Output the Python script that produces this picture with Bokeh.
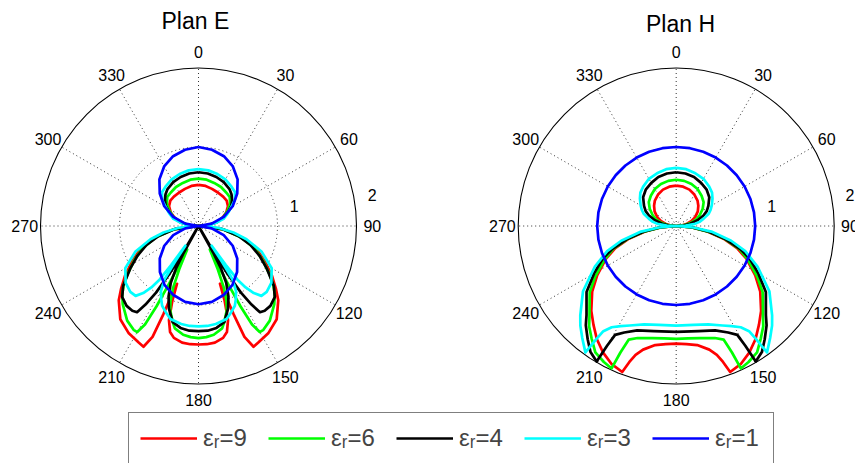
import numpy as np
from bokeh.plotting import figure
from bokeh.models import Legend, LegendItem, Range1d
from bokeh.embed import file_html
from bokeh.resources import INLINE
from bokeh.core.properties import value

# ---------------- data ----------------
# angle in degrees, clockwise from the top (0 = up), right half 0..180;
# every pattern is symmetric about the 0-180 axis.
SERIES = ["9", "6", "4", "3", "1"]
COLORS = ["#ff0000", "#00ff00", "#000000", "#00ffff", "#0000ff"]

# ---- Plan E ----
E_ANG_9 = [0, 10, 20, 30, 40, 48, 56, 64, 72, 80, 86, 90, 98, 105, 112, 118, 124, 129, 133, 140,
           147, 153, 155.5, 157.5, 158.3, 158.8, 159.6, 160.7, 162.6, 165, 167.6, 172, 176, 180]
E_R_9 = [0.52, 0.515, 0.5, 0.49, 0.485, 0.48, 0.45, 0.39, 0.31, 0.21, 0.1, 0.0, 0.33, 0.58, 0.8, 0.95,
         1.12, 1.26, 1.38, 1.54, 1.62, 1.66, 1.68, 1.52, 1.2, 0.92, 0.78, 1.0, 1.25, 1.39, 1.45, 1.49, 1.5, 1.5]

E_ANG_6 = [0, 10, 20, 30, 40, 47, 55, 62, 70, 78, 85, 90, 98, 105, 112, 118, 124, 128, 132, 136, 143,
           148, 150, 151.5, 152.4, 153, 153.8, 154.2, 156, 157.7, 159.5, 161.3, 165, 167, 172, 176, 180]
E_R_6 = [0.6, 0.595, 0.58, 0.57, 0.55, 0.54, 0.49, 0.42, 0.34, 0.24, 0.12, 0.0, 0.32, 0.56, 0.77, 0.92,
         1.08, 1.2, 1.3, 1.38, 1.5, 1.55, 1.55, 1.42, 1.15, 0.8, 0.45, 0.33, 0.6, 0.85, 1.01, 1.12, 1.26,
         1.33, 1.39, 1.41, 1.42]

E_ANG_4 = [0, 10, 20, 30, 40, 46, 52, 58, 64, 70, 78, 85, 90, 97, 104, 110, 116, 122, 128.5, 133, 138,
           142, 144.5, 146, 147.5, 148.8, 149.6, 150, 151, 152, 154, 157, 160.3, 165, 170, 175, 180]
E_R_4 = [0.68, 0.675, 0.66, 0.64, 0.61, 0.58, 0.54, 0.49, 0.42, 0.35, 0.24, 0.12, 0.0, 0.3, 0.52, 0.7,
         0.86, 1.02, 1.22, 1.32, 1.36, 1.36, 1.34, 1.2, 1.0, 0.7, 0.35, 0.0, 0.38, 0.6, 0.8, 0.97, 1.11,
         1.26, 1.31, 1.33, 1.33]

E_ANG_3 = [0, 10, 20, 30, 40, 47, 54, 60, 67, 74, 80, 86, 90, 95, 100.6, 105.4, 112, 120, 128, 134, 138,
           140.5, 142.5, 144, 145, 145.7, 146.2, 146.8, 147.5, 150, 153, 155.5, 160, 163.2, 170, 175, 180]
E_R_3 = [0.72, 0.715, 0.7, 0.68, 0.65, 0.63, 0.57, 0.48, 0.4, 0.33, 0.22, 0.12, 0.05, 0.25, 0.45, 0.63,
         0.86, 1.07, 1.17, 1.2, 1.19, 1.1, 0.98, 0.84, 0.6, 0.4, 0.3, 0.55, 0.8, 0.95, 1.04, 1.11, 1.18,
         1.23, 1.26, 1.27, 1.27]

E_ANG_1 = [0, 10, 20, 30, 40, 50, 60, 70, 80, 90, 100, 110, 120, 130, 140, 150, 160, 170, 180]
E_R_1 = [1.0, 0.98, 0.94, 0.87, 0.77, 0.64, 0.5, 0.34, 0.17, 0.0, 0.17, 0.34, 0.5, 0.64, 0.76, 0.86,
         0.93, 0.975, 0.99]

# ---- Plan H ----
H_ANG_9 = [0, 10, 20, 30, 40, 47.5, 56, 65, 72, 78, 84, 90, 95, 100, 105, 110, 115, 122, 128, 135, 140,
           145, 150, 155, 159.7, 161, 162.5, 165, 170, 175, 180]
H_R_9 = [0.51, 0.505, 0.49, 0.46, 0.42, 0.38, 0.33, 0.265, 0.2, 0.14, 0.07, 0.0, 0.2, 0.4, 0.62, 0.82,
         0.98, 1.18, 1.35, 1.52, 1.63, 1.75, 1.85, 1.93, 1.97, 1.82, 1.71, 1.62, 1.53, 1.5, 1.49]

H_ANG_6 = [0, 10, 20, 30, 40, 49, 57, 65, 72, 78, 84, 90, 95, 100, 105, 110, 115, 122, 127.5, 133, 136,
           139, 143, 147.4, 152, 155.6, 156.2, 157.3, 161, 168, 174, 180]
H_R_6 = [0.585, 0.58, 0.565, 0.54, 0.5, 0.46, 0.4, 0.33, 0.27, 0.19, 0.1, 0.0, 0.2, 0.41, 0.64, 0.85,
         1.0, 1.21, 1.38, 1.5, 1.58, 1.68, 1.78, 1.9, 1.95, 1.98, 1.75, 1.56, 1.5, 1.45, 1.43, 1.43]

H_ANG_4 = [0, 10, 20, 30, 40, 49, 58, 64, 69, 75, 81, 86, 90, 95, 100, 105, 110, 114, 120, 126.4, 134.8,
           137.7, 142, 145.8, 149.6, 150, 150.7, 154, 159.5, 168, 180]
H_R_4 = [0.68, 0.675, 0.66, 0.63, 0.6, 0.555, 0.48, 0.43, 0.37, 0.28, 0.18, 0.09, 0.0, 0.21, 0.42, 0.65,
         0.87, 1.02, 1.2, 1.41, 1.6, 1.7, 1.82, 1.93, 1.99, 1.75, 1.58, 1.5, 1.41, 1.36, 1.34]

H_ANG_3 = [0, 10, 20, 30, 40, 47, 53, 60, 65, 69.4, 75, 80, 83.4, 87, 90, 95, 99, 105, 110, 116.5, 125,
           133, 136.1, 140, 144.3, 144.8, 145.3, 147.5, 151, 155, 162, 170, 180]
H_R_3 = [0.735, 0.73, 0.71, 0.69, 0.65, 0.62, 0.575, 0.52, 0.48, 0.44, 0.36, 0.3, 0.24, 0.12, 0.0, 0.22,
         0.45, 0.72, 0.93, 1.15, 1.44, 1.66, 1.75, 1.85, 1.97, 1.75, 1.62, 1.52, 1.45, 1.39, 1.31, 1.27, 1.26]

H_ANG_1 = [0, 10, 20, 30, 40, 50, 60, 70, 80, 90, 100, 110, 120, 130, 140, 150, 160, 170, 180]
H_R_1 = [1.0, 1.0, 1.0, 1.0, 1.0, 1.0, 1.0, 1.0, 1.0, 1.0, 1.0, 1.0, 1.0, 1.0, 1.0, 1.0, 1.0, 1.0, 1.0]

ANGLE_TICKS = [0, 30, 60, 90, 120, 150, 180, 210, 240, 270, 300, 330]
RADIAL_TICKS = [1, 2]
R_MAX = 2
TITLES = ["Plan E", "Plan H"]

# ---------------- layout ----------------
W, H = 855, 463
U = 79.0                       # pixels per radial unit
CX_E_PX, CY_PX = 198.0, 225.5  # Plan E centre on the canvas
CX_H = (675.7 - CX_E_PX) / U   # Plan H centre, data units
CENTERS = [0.0, CX_H]

p = figure(width=W, height=H, output_backend="svg", toolbar_location=None,
           x_axis_type=None, y_axis_type=None, min_border=0,
           x_range=Range1d(-CX_E_PX / U, (W - CX_E_PX) / U),
           y_range=Range1d(-(H - CY_PX) / U, CY_PX / U))
p.grid.visible = False
p.outline_line_color = None
p.background_fill_color = "white"
p.border_fill_color = "white"

FONT_NAME = "Liberation Sans"
FONT = value(FONT_NAME)
DOT = "1 3"


def curve(ang, rad, cx):
    a = list(ang) + [360 - t for t in reversed(ang)]
    r = list(rad) + list(reversed(rad))
    a = np.radians(np.array(a, dtype=float))
    r = np.array(r, dtype=float)
    return cx + r * np.sin(a), r * np.cos(a)


for cx in CENTERS:
    th = np.radians(ANGLE_TICKS)
    p.segment(x0=[cx] * len(th), y0=[0] * len(th),
              x1=cx + R_MAX * np.sin(th), y1=R_MAX * np.cos(th),
              line_color="#333333", line_width=1, line_dash=DOT)
    p.circle(x=[cx] * (len(RADIAL_TICKS) - 1), y=[0] * (len(RADIAL_TICKS) - 1),
             radius=RADIAL_TICKS[:-1], fill_color=None,
             line_color="#333333", line_width=1, line_dash=DOT)
    p.circle(x=[cx], y=[0], radius=R_MAX, fill_color=None, line_color="black", line_width=1.1)
    p.text(x=cx + 1.1 * R_MAX * np.sin(th), y=1.1 * R_MAX * np.cos(th),
           text=[str(t) for t in ANGLE_TICKS], text_font=FONT, text_font_size="16px",
           text_align="center", text_baseline="middle", text_color="black")
    a82 = np.radians(82)
    rr = np.array(RADIAL_TICKS, dtype=float) + 1 / 20
    p.text(x=cx + rr * np.sin(a82), y=rr * np.cos(a82), text=[str(t) for t in RADIAL_TICKS],
           x_offset=9, y_offset=-2, text_font=FONT, text_font_size="16px",
           text_align="left", text_baseline="bottom", text_color="black")

p.text(x=[CENTERS[0] - 0.04, CENTERS[1] + 0.055], y=[2.60, 2.555], text=TITLES,
       text_font=FONT, text_font_size="23px", text_align="center",
       text_baseline="middle", text_color="black")

E_DATA = [(E_ANG_9, E_R_9), (E_ANG_6, E_R_6), (E_ANG_4, E_R_4), (E_ANG_3, E_R_3), (E_ANG_1, E_R_1)]
H_DATA = [(H_ANG_9, H_R_9), (H_ANG_6, H_R_6), (H_ANG_4, H_R_4), (H_ANG_3, H_R_3), (H_ANG_1, H_R_1)]

legend_renderers = []
for (ang, rad), col in zip(E_DATA, COLORS):
    x, y = curve(ang, rad, CENTERS[0])
    legend_renderers.append(p.line(x, y, line_color=col, line_width=2.7, line_join="round"))
for (ang, rad), col in zip(H_DATA, COLORS):
    x, y = curve(ang, rad, CENTERS[1])
    p.line(x, y, line_color=col, line_width=2.7, line_join="round")

items = [LegendItem(label="\u03b5\u1d63=" + s, renderers=[r]) for s, r in zip(SERIES, legend_renderers)]
legend = Legend(items=items, orientation="horizontal", location=(128, -1),
                glyph_width=57, glyph_height=28, label_height=28, label_standoff=6,
                label_width=47, spacing=18, padding=11, margin=0,
                label_text_font=FONT_NAME, label_text_font_size="24px",
                border_line_color="black", border_line_width=1.3,
                background_fill_color="white", background_fill_alpha=1.0)
p.add_layout(legend)

open("out.html", "w").write(file_html(p, INLINE))
